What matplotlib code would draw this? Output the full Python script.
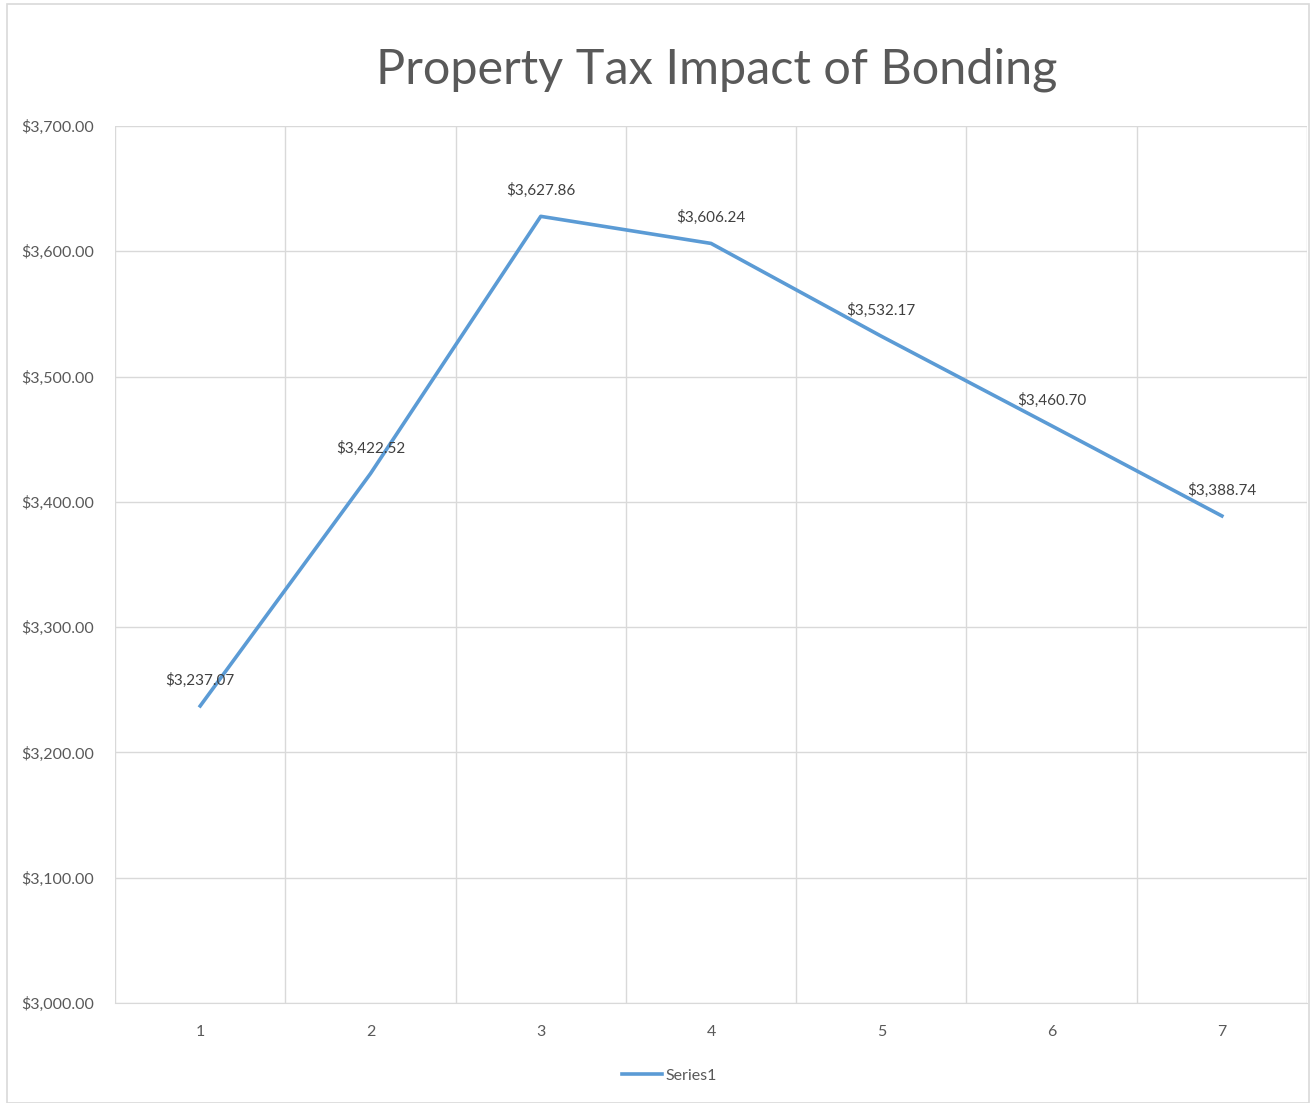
import matplotlib
matplotlib.use("Agg")
import matplotlib.pyplot as plt
from matplotlib.patches import Rectangle

plt.rcParams['font.family'] = ['Lato', 'DejaVu Sans']

categories = [1, 2, 3, 4, 5, 6, 7]
values = [3237.07, 3422.52, 3627.86, 3606.24, 3532.17, 3460.70, 3388.74]
yticks = [3000, 3100, 3200, 3300, 3400, 3500, 3600, 3700]

fig = plt.figure(figsize=(13.12, 11.03), dpi=100)
fig.patches.append(Rectangle((0.005, 0.0), 0.993, 0.996, transform=fig.transFigure,
                             fill=False, edgecolor='#d9d9d9', linewidth=1.2))
ax = fig.add_axes([0.0877, 0.0907, 0.9085, 0.7951])

ax.plot(categories, values, color='#5B9BD5', linewidth=2.6, label='Series1')
for x, v in zip(categories, values):
    ax.annotate(f"${v:,.2f}", (x, v), xytext=(0, 13), textcoords='offset points',
                ha='center', va='bottom', fontsize=11, color='#404040')

ax.set_xlim(0.5, 7.5)
ax.set_ylim(3000, 3700)
ax.set_yticks(yticks)
ax.set_yticklabels([f"${t:,.2f}" for t in yticks])
ax.set_xticks(categories)
ax.set_xticks([c + 0.5 for c in [0] + categories], minor=True)
ax.grid(True, which='major', axis='y', color='#d9d9d9', linewidth=1)
ax.grid(True, which='minor', axis='x', color='#d9d9d9', linewidth=1)
ax.tick_params(which='both', length=0, labelsize=11.5, colors='#595959', pad=16)
ax.tick_params(axis='y', pad=15)
for s in ['top', 'right', 'left']:
    ax.spines[s].set_visible(False)
ax.spines['bottom'].set_color('#d9d9d9')

fig.suptitle('Property Tax Impact of Bonding', x=0.546, y=0.937, va='center',
             fontsize=35, color='#595959')
fig.legend(loc='center', bbox_to_anchor=(0.51, 0.025), frameon=False, fontsize=11.5,
           labelcolor='#595959', handlelength=2.5, handletextpad=0.2)

fig.savefig('out.png', dpi=100)
